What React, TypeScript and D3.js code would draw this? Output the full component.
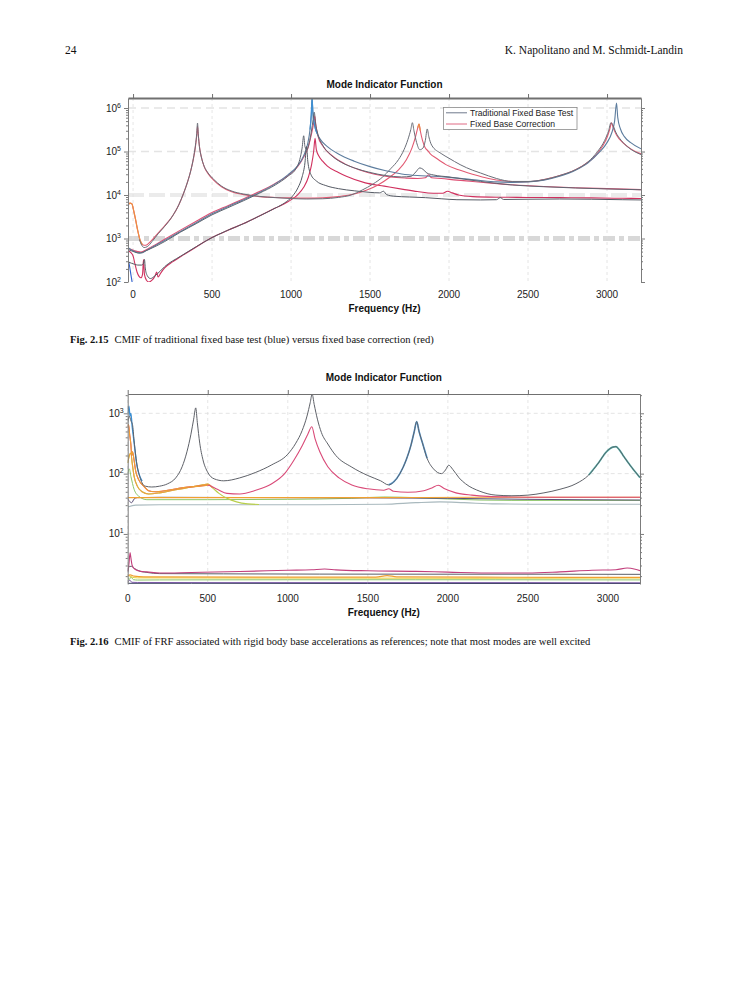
import { useEffect, useRef } from 'react';
import * as d3 from 'd3';

type Pt = [number, number];

// ---------- Fig. 2.15 (frequency in Hz, CMIF value) ----------
const fig15TradA: Pt[] = [
  [-32, 5200], [-20, 5800], [-10, 6200], [0, 4600], [12, 3000], [25, 1800], [40, 950], [55, 700], [70, 620],
  [90, 650], [120, 850], [160, 1300], [200, 1900], [250, 3300], [290, 6000], [320, 11000], [345, 20000],
  [365, 36000], [382, 70000], [395, 140000], [403, 260000], [408, 450000], [413, 240000], [420, 130000],
  [432, 75000], [450, 46000], [475, 32000], [510, 23000], [560, 16000], [620, 12500], [700, 10500],
  [800, 9300], [900, 8700], [1000, 8300], [1100, 8100], [1200, 8200], [1300, 8800], [1380, 10000],
  [1450, 13000], [1520, 18000], [1580, 26000], [1630, 40000], [1680, 65000], [1715, 110000], [1740, 190000],
  [1758, 320000], [1768, 460000], [1778, 300000], [1795, 160000], [1815, 110000], [1835, 120000],
  [1850, 180000], [1862, 330000], [1872, 220000], [1890, 140000], [1950, 90000], [2000, 70000],
  [2070, 50000], [2150, 37000], [2200, 32000], [2300, 24000], [2400, 20500], [2500, 20500], [2600, 22500],
  [2700, 28000], [2800, 38000], [2880, 58000], [2940, 100000], [2985, 180000], [3010, 300000],
  [3025, 460000], [3035, 420000], [3055, 280000], [3090, 180000], [3140, 120000], [3215, 85000],
];
const fig15TradB: Pt[] = [
  [-32, 560], [-10, 520], [10, 490], [30, 470], [50, 470], [70, 500], [100, 560], [150, 680], [200, 850],
  [300, 1400], [400, 2200], [500, 3500], [600, 5100], [700, 7400], [800, 11000], [900, 17000], [980, 27000],
  [1030, 40000], [1055, 65000], [1070, 120000], [1080, 230000], [1088, 130000], [1100, 110000],
  [1115, 160000], [1128, 280000], [1140, 550000], [1147, 800000], [1155, 450000], [1170, 250000],
  [1200, 140000], [1250, 85000], [1320, 56000], [1400, 42000], [1500, 33000], [1600, 28000], [1700, 26000],
  [1760, 27000], [1790, 34000], [1815, 42000], [1835, 39000], [1860, 32000], [1900, 29000], [2000, 26000],
  [2100, 23000], [2200, 20500], [2300, 18500], [2400, 17000], [2600, 15500], [2800, 14500], [3000, 13800],
  [3215, 13200],
];
const fig15TradC: Pt[] = [
  [-32, 620], [-15, 560], [0, 520], [20, 480], [40, 460], [60, 470], [80, 520], [110, 600], [150, 720],
  [200, 900], [300, 1450], [400, 2300], [500, 3700], [600, 5400], [700, 7800], [800, 11500], [900, 18000],
  [980, 29000], [1040, 46000], [1080, 80000], [1105, 150000], [1120, 320000], [1128, 700000],
  [1133, 1700000], [1138, 800000], [1148, 420000], [1165, 260000], [1190, 180000], [1230, 130000],
  [1300, 88000], [1400, 60000], [1500, 45000], [1600, 36000], [1700, 30500], [1800, 28000], [1900, 27000],
  [2000, 25500], [2100, 23500], [2200, 21500], [2300, 20000], [2400, 19500], [2500, 20000], [2600, 22000],
  [2700, 27000], [2800, 37000], [2880, 55000], [2950, 95000], [3000, 160000], [3030, 270000],
  [3048, 500000], [3060, 1300000], [3068, 600000], [3085, 330000], [3110, 220000], [3150, 160000],
  [3215, 115000],
];
const fig15TradD: Pt[] = [
  [-32, 290], [-10, 270], [10, 255], [30, 245], [55, 245], [65, 260], [72, 330], [78, 200], [90, 140],
  [110, 120], [140, 140], [170, 175], [200, 225], [300, 390], [400, 650], [500, 1050], [600, 1550],
  [700, 2200], [800, 3300], [900, 5000], [960, 6600], [1010, 9500], [1045, 15000], [1070, 26000],
  [1088, 55000], [1098, 130000], [1106, 60000], [1125, 30000], [1160, 21000], [1220, 16500], [1300, 14000],
  [1400, 12500], [1500, 11500], [1560, 11200], [1585, 12200], [1605, 10200], [1650, 9400], [1750, 9000],
  [1850, 8700], [1950, 8200], [2050, 7800], [2200, 7700], [2300, 7800], [2325, 8700], [2345, 7900],
  [2500, 8000], [2700, 8100], [2900, 8000], [3100, 7800], [3215, 7700],
];
const fig15TradEdge: Pt[] = [[-32, 330], [-22, 230], [-14, 150], [-6, 100]];

const fig15CorrA: Pt[] = [
  [-32, 5800], [-20, 6500], [-8, 6300], [5, 4200], [18, 2500], [30, 1500], [45, 900], [60, 720], [80, 700],
  [110, 850], [160, 1350], [200, 1950], [250, 3300], [290, 6000], [320, 11000], [345, 20000], [365, 36000],
  [382, 68000], [395, 130000], [403, 230000], [408, 380000], [414, 220000], [421, 125000], [433, 73000],
  [450, 45000], [475, 31000], [510, 22000], [560, 15500], [620, 12000], [700, 10200], [800, 9200],
  [900, 8800], [1000, 8600], [1100, 8500], [1200, 8600], [1300, 9200], [1400, 10500], [1480, 13000],
  [1550, 17000], [1620, 25000], [1680, 38000], [1730, 65000], [1765, 120000], [1788, 220000],
  [1802, 350000], [1810, 430000], [1818, 300000], [1832, 180000], [1850, 120000], [1865, 105000],
  [1880, 90000], [1920, 70000], [1980, 50000], [2060, 38000], [2150, 30000], [2250, 24000], [2350, 21000],
  [2450, 20000], [2550, 21000], [2650, 25000], [2750, 32000], [2850, 48000], [2920, 75000], [2970, 130000],
  [3000, 210000], [3018, 330000], [3028, 460000], [3038, 360000], [3060, 240000], [3100, 160000],
  [3150, 115000], [3215, 88000],
];
const fig15CorrB: Pt[] = [
  [-32, 600], [-10, 560], [10, 520], [30, 500], [50, 490], [70, 520], [100, 600], [150, 750], [200, 960],
  [300, 1560], [400, 2500], [500, 3950], [600, 5700], [700, 8200], [800, 12000], [900, 18500],
  [980, 28000], [1040, 44000], [1080, 75000], [1110, 130000], [1130, 260000], [1143, 450000],
  [1150, 650000], [1157, 400000], [1170, 230000], [1200, 135000], [1260, 80000], [1340, 52000],
  [1430, 38000], [1530, 30000], [1630, 26000], [1730, 24500], [1800, 24000], [1850, 25000], [1870, 29000],
  [1890, 25000], [1950, 24000], [2050, 22000], [2150, 20500], [2250, 19000], [2400, 17200], [2600, 15700],
  [2800, 14700], [3000, 14000], [3215, 13300],
];
const fig15CorrD: Pt[] = [
  [-32, 520], [-15, 480], [0, 400], [12, 260], [25, 170], [38, 135], [50, 125], [60, 150], [66, 330],
  [72, 150], [85, 110], [100, 100], [120, 110], [140, 140], [150, 170], [158, 130], [175, 160], [200, 210],
  [250, 290], [300, 380], [400, 640], [500, 1050], [600, 1550], [700, 2200], [800, 3300], [900, 5000],
  [980, 7000], [1040, 10000], [1080, 15000], [1110, 26000], [1130, 50000], [1143, 100000], [1152, 200000],
  [1160, 110000], [1175, 80000], [1200, 60000], [1230, 46000], [1300, 33000], [1350, 27000],
  [1470, 19000], [1590, 16000], [1710, 13500], [1800, 12000], [1900, 11000], [1960, 11000],
  [1990, 12200], [2020, 11200], [2060, 10000], [2150, 9200], [2300, 8900], [2500, 8800], [2700, 8700],
  [2900, 8600], [3100, 8400], [3215, 8300],
];

const fig15Freq = [0, 500, 1000, 1500, 2000, 2500, 3000];
const fig15Decades = [1e2, 1e3, 1e4, 1e5, 1e6];
const fig15Legend = ['Traditional Fixed Base Test', 'Fixed Base Correction'];

// ---------- Fig. 2.16 ----------
const fig16Main: Pt[] = [
  [0, 700], [10, 900], [20, 750], [30, 650], [40, 350], [50, 200], [60, 130], [75, 90], [90, 70], [110, 62],
  [150, 60], [200, 62], [250, 68], [300, 85], [340, 130], [370, 230], [395, 450], [412, 800], [425, 1230],
  [435, 700], [450, 320], [470, 170], [500, 105], [540, 82], [600, 76], [700, 85], [800, 105], [900, 140],
  [1000, 210], [1050, 320], [1090, 520], [1120, 900], [1140, 1500], [1152, 2080], [1165, 1400],
  [1185, 800], [1210, 480], [1250, 310], [1300, 200], [1400, 128], [1500, 93], [1580, 76], [1630, 65],
  [1660, 72], [1700, 100], [1740, 170], [1770, 300], [1790, 500], [1805, 730], [1820, 500], [1840, 330],
  [1870, 180], [1910, 120], [1960, 100], [1985, 115], [2005, 138], [2030, 118], [2070, 85], [2110, 68],
  [2200, 51], [2300, 44], [2400, 43], [2500, 44], [2600, 48], [2700, 55], [2800, 68], [2880, 95],
  [2940, 150], [2990, 230], [3030, 275], [3050, 280], [3070, 250], [3100, 190], [3150, 125], [3200, 86],
];
const fig16Spike: Pt[] = [
  [0, 1000], [8, 1320], [14, 900], [20, 1000], [28, 600], [35, 420], [45, 250], [55, 150], [70, 100], [90, 75],
];
const fig16Pink: Pt[] = [
  [0, 600], [5, 650], [12, 450], [20, 300], [25, 200], [30, 230], [38, 180], [50, 110], [70, 78], [100, 62],
  [130, 52], [170, 50], [250, 53], [350, 59], [450, 62], [500, 64], [560, 55], [620, 47], [700, 46],
  [800, 53], [900, 68], [980, 100], [1040, 170], [1090, 290], [1125, 450], [1150, 600], [1170, 380],
  [1200, 230], [1250, 130], [1320, 85], [1400, 65], [1500, 56], [1600, 53], [1630, 56], [1660, 51],
  [1750, 49], [1850, 52], [1900, 58], [1940, 64], [1980, 56], [2050, 48], [2150, 44], [2250, 42],
  [2400, 41], [2600, 40.5], [2800, 40.5], [3000, 40.5], [3200, 40.5],
];
const fig16Bump: Pt[] = [
  [0, 150], [10, 200], [20, 220], [28, 150], [40, 90], [60, 62], [90, 50], [130, 46], [200, 48], [300, 54],
  [400, 60], [470, 65], [500, 67], [530, 58], [570, 47], [620, 39], [680, 34], [750, 31.5], [820, 30.8],
];
const fig16OrangeFlat: Pt[] = [[0, 40], [200, 40], [1500, 40], [2200, 40.5], [3200, 40.5]];
const fig16Navy: Pt[] = [
  [0, 38], [10, 35], [25, 33], [40, 38], [60, 40], [200, 40.5], [1000, 40], [2000, 39], [2500, 37.5],
  [3200, 36.5],
];
const fig16Green: Pt[] = [
  [0, 100], [10, 120], [20, 90], [40, 55], [70, 42], [120, 37], [500, 37], [1000, 37.5], [1400, 39],
  [1600, 41], [1800, 40], [2000, 38], [2200, 36.5], [2400, 36], [3200, 36],
];
const fig16Light: Pt[] = [
  [0, 28], [50, 30], [200, 30.5], [1000, 30.5], [1600, 31], [1800, 33], [1950, 34], [2100, 33],
  [2300, 31.5], [2600, 31], [3200, 31],
];
const fig16PinkLow: Pt[] = [
  [0, 2.4], [8, 3.2], [15, 4.9], [20, 4], [28, 3], [45, 2.6], [80, 2.4], [120, 2.35], [200, 2.25],
  [400, 2.3], [700, 2.38], [1000, 2.5], [1150, 2.55], [1230, 2.62], [1300, 2.54], [1500, 2.45],
  [1800, 2.4], [2000, 2.33], [2300, 2.25], [2500, 2.25], [2700, 2.35], [2900, 2.5], [3050, 2.55],
  [3120, 2.72], [3170, 2.6], [3200, 2.46],
];
const fig16GrayLow: Pt[] = [
  [0, 2.3], [10, 2.9], [25, 2.9], [40, 2.7], [70, 2.45], [120, 2.3], [200, 2.2], [600, 2.18],
  [1200, 2.16], [2000, 2.15], [2600, 2.15], [3200, 2.14],
];
const fig16OrangeLow: Pt[] = [
  [0, 2.0], [15, 2.1], [40, 2.0], [100, 1.95], [800, 1.93], [1550, 1.93], [1620, 2.04], [1680, 1.95],
  [2200, 1.92], [3200, 1.9],
];
const fig16YellowLow: Pt[] = [[0, 2.1], [20, 1.95], [60, 1.87], [500, 1.86], [1500, 1.85], [2200, 1.84], [3200, 1.86]];
const fig16GreenLow: Pt[] = [
  [0, 1.9], [10, 1.75], [20, 1.95], [35, 1.75], [60, 1.72], [200, 1.73], [1000, 1.74], [1800, 1.74],
  [2300, 1.74], [3200, 1.73],
];
const fig16PurpleLow: Pt[] = [[0, 1.6], [15, 1.7], [25, 1.58], [60, 1.57], [500, 1.56], [1500, 1.56], [2500, 1.56], [3200, 1.55]];
const fig16NavyLow: Pt[] = [[0, 1.52], [400, 1.52], [1500, 1.51], [2500, 1.51], [3200, 1.51]];

const fig16Freq = [0, 500, 1000, 1500, 2000, 2500, 3000];
const fig16Decades = [1e1, 1e2, 1e3];

interface Series {
  data: Pt[];
  color: string;
  width: number;
  from?: number;
  to?: number;
}

interface Panel {
  id: string;
  x: d3.ScaleLinear<number, number>;
  y: d3.ScaleLogarithmic<number, number>;
  decades: number[];
  freq: number[];
  series: Series[];
  hGrid: (d: number) => { color: string; width: number; dash: string };
  title: string;
  titleY: number;
  tickY: number;
  labelY: number;
  labelGap: number;
  topStroke: number;
}

const SANS = 'Liberation Sans, Arial, Helvetica, sans-serif';
const SERIF = 'Liberation Serif, Times New Roman, serif';

function drawPanel(svg: d3.Selection<SVGSVGElement, unknown, null, undefined>, p: Panel) {
  const [left, right] = p.x.range();
  const [bottom, top] = p.y.range();
  const g = svg.append('g');

  g.append('clipPath').attr('id', p.id)
    .append('rect')
    .attr('x', left).attr('y', top)
    .attr('width', right - left).attr('height', bottom - top);

  // dashed grid
  g.append('g').selectAll('line')
    .data(p.decades)
    .join('line')
    .attr('x1', left).attr('x2', right)
    .attr('y1', d => p.y(d)).attr('y2', d => p.y(d))
    .attr('stroke', d => p.hGrid(d).color)
    .attr('stroke-width', d => p.hGrid(d).width)
    .attr('stroke-dasharray', d => p.hGrid(d).dash);

  g.append('g').selectAll('line')
    .data(p.freq)
    .join('line')
    .attr('x1', d => p.x(d)).attr('x2', d => p.x(d))
    .attr('y1', top).attr('y2', bottom)
    .attr('stroke', '#dedede')
    .attr('stroke-width', 0.8)
    .attr('stroke-dasharray', '3,3');

  const line = d3.line<Pt>()
    .x(d => p.x(d[0]))
    .y(d => p.y(d[1]))
    .curve(d3.curveMonotoneX);

  const lines = g.append('g').attr('clip-path', `url(#${p.id})`);
  p.series.forEach(s => {
    const pts = s.data.filter(d => (s.from === undefined || d[0] >= s.from) && (s.to === undefined || d[0] <= s.to));
    lines.append('path')
      .attr('d', line(pts))
      .attr('fill', 'none')
      .attr('stroke', s.color)
      .attr('stroke-width', s.width)
      .attr('stroke-linejoin', 'round');
  });

  const minor = p.y.ticks().filter(v => !p.decades.some(d => Math.abs(v - d) / d < 1e-6));
  const axisColor = '#7c7c7c';

  g.append('g')
    .attr('transform', `translate(${left},0)`)
    .call(d3.axisLeft(p.y).tickValues(p.decades).tickSize(4).tickSizeOuter(0).tickFormat(() => ''))
    .attr('color', axisColor);
  g.append('g')
    .attr('transform', `translate(${left},0)`)
    .call(d3.axisLeft(p.y).tickValues(minor).tickSize(2).tickSizeOuter(0).tickFormat(() => ''))
    .attr('color', axisColor)
    .call(a => a.select('.domain').remove());
  g.append('g')
    .attr('transform', `translate(${right},0)`)
    .call(d3.axisRight(p.y).tickValues(p.decades).tickSize(4).tickSizeOuter(0).tickFormat(() => ''))
    .attr('color', axisColor);
  g.append('g')
    .attr('transform', `translate(${right},0)`)
    .call(d3.axisRight(p.y).tickValues(minor).tickSize(2).tickSizeOuter(0).tickFormat(() => ''))
    .attr('color', axisColor)
    .call(a => a.select('.domain').remove());

  const topAxis = g.append('g')
    .attr('transform', `translate(0,${top})`)
    .call(d3.axisTop(p.x).tickValues(p.freq).tickSize(4).tickSizeOuter(0).tickFormat(() => ''))
    .attr('color', '#707070');
  topAxis.select('.domain').attr('stroke-width', p.topStroke);

  // tick labels
  g.append('g').selectAll('text')
    .data(p.decades)
    .join('text')
    .attr('x', left - p.labelGap)
    .attr('y', d => p.y(d) + 3.5)
    .attr('text-anchor', 'end')
    .attr('font-family', SANS)
    .attr('font-size', 10)
    .attr('fill', '#222')
    .each(function (d) {
      const t = d3.select(this);
      t.append('tspan').text('10');
      t.append('tspan').attr('dy', -4).attr('font-size', 7).text(String(Math.round(Math.log10(d))));
    });

  g.append('g').selectAll('text')
    .data(p.freq)
    .join('text')
    .attr('x', d => p.x(d))
    .attr('y', p.tickY)
    .attr('text-anchor', 'middle')
    .attr('font-family', SANS)
    .attr('font-size', 10)
    .attr('fill', '#222')
    .text(d => String(d));

  g.append('text')
    .attr('x', (left + right) / 2)
    .attr('y', p.titleY)
    .attr('text-anchor', 'middle')
    .attr('font-family', SANS)
    .attr('font-size', 10)
    .attr('font-weight', 'bold')
    .attr('fill', '#111')
    .text(p.title);

  g.append('text')
    .attr('x', (left + right) / 2)
    .attr('y', p.labelY)
    .attr('text-anchor', 'middle')
    .attr('font-family', SANS)
    .attr('font-size', 10)
    .attr('font-weight', 'bold')
    .attr('fill', '#111')
    .text('Frequency (Hz)');
}

export default function App() {
  const svgRef = useRef<SVGSVGElement>(null);

  useEffect(() => {
    if (!svgRef.current) return;
    const svg = d3.select(svgRef.current);
    svg.selectAll('*').remove();

    // running head
    svg.append('text')
      .attr('x', 65).attr('y', 54)
      .attr('font-family', SERIF).attr('font-size', 11.5).attr('fill', '#111')
      .text('24');
    svg.append('text')
      .attr('x', 683).attr('y', 54)
      .attr('text-anchor', 'end')
      .attr('font-family', SERIF).attr('font-size', 11.5).attr('fill', '#111')
      .text('K. Napolitano and M. Schmidt-Landin');

    // Fig. 2.15
    const x15 = d3.scaleLinear().domain([-32, 3215]).range([128, 641]);
    const y15 = d3.scaleLog().domain([100, 1.7e6]).range([282, 98]);

    drawPanel(svg, {
      id: 'clip15',
      x: x15,
      y: y15,
      decades: fig15Decades,
      freq: fig15Freq,
      series: [
        { data: fig15CorrD, color: '#d0305e', width: 1.1 },
        { data: fig15CorrB, color: '#de4f73', width: 1.1 },
        { data: fig15CorrA, color: '#e25a72', width: 1.1 },
        { data: fig15CorrA, color: '#ee9040', width: 1.2, to: 60 },
        { data: fig15CorrA, color: '#ee9040', width: 1.1, from: 1790, to: 1830 },
        { data: fig15TradC, color: '#5d7d9e', width: 1.1 },
        { data: fig15TradC, color: '#3f8fd2', width: 1.2, from: 1110, to: 1170 },
        { data: fig15TradEdge, color: '#2f5fcf', width: 1.1 },
        { data: fig15TradD, color: '#555a64', width: 1.0 },
        { data: fig15TradB, color: '#5f6570', width: 1.0 },
        { data: fig15TradA, color: '#6a6e78', width: 1.0, from: 40 },
      ],
      hGrid: d => {
        if (d === 1e3) return { color: '#d8d8d8', width: 5, dash: '12,4,5,4' };
        if (d === 1e4) return { color: '#ebebeb', width: 4, dash: '16,5' };
        if (d === 1e2) return { color: '#ffffff', width: 0, dash: '' };
        return { color: '#e4e4e4', width: 1.6, dash: '8,5' };
      },
      title: 'Mode Indicator Function',
      titleY: 88,
      tickY: 298,
      labelY: 312,
      labelGap: 7,
      topStroke: 1.8,
    });

    // legend
    const legend = svg.append('g');
    legend.append('rect')
      .attr('x', 443.5).attr('y', 107.5).attr('width', 133.5).attr('height', 22)
      .attr('fill', '#fff').attr('stroke', '#8a8a8a').attr('stroke-width', 0.8);
    legend.selectAll('line')
      .data(fig15Legend)
      .join('line')
      .attr('x1', 446).attr('x2', 467)
      .attr('y1', (_, i) => 112.8 + i * 11.2).attr('y2', (_, i) => 112.8 + i * 11.2)
      .attr('stroke', (_, i) => (i === 0 ? '#6f7a8c' : '#e06a84'))
      .attr('stroke-width', 1);
    legend.selectAll('text')
      .data(fig15Legend)
      .join('text')
      .attr('x', 470)
      .attr('y', (_, i) => 115.8 + i * 11.2)
      .attr('font-family', SANS)
      .attr('font-size', 8.6)
      .attr('fill', '#222')
      .text(d => d);

    const cap15 = svg.append('text')
      .attr('x', 70).attr('y', 342.5)
      .attr('font-family', SERIF).attr('font-size', 10.6).attr('fill', '#111');
    cap15.append('tspan').attr('font-weight', 'bold').text('Fig. 2.15');
    cap15.append('tspan').attr('dx', 6).text('CMIF of traditional fixed base test (blue) versus fixed base correction (red)');

    // Fig. 2.16
    const x16 = d3.scaleLinear().domain([0, 3200]).range([127.7, 640]);
    const y16 = d3.scaleLog().domain([1.48, 2090]).range([584, 394]);

    drawPanel(svg, {
      id: 'clip16',
      x: x16,
      y: y16,
      decades: fig16Decades,
      freq: fig16Freq,
      series: [
        { data: fig16Light, color: '#a9b9be', width: 1.1 },
        { data: fig16Green, color: '#8cc56a', width: 1.0 },
        { data: fig16Navy, color: '#5b5078', width: 1.0 },
        { data: fig16OrangeFlat, color: '#f0a030', width: 1.1 },
        { data: fig16Bump, color: '#b9cf4a', width: 1.1 },
        { data: fig16Bump, color: '#eba040', width: 1.1, to: 540 },
        { data: fig16Pink, color: '#d94a78', width: 1.1 },
        { data: fig16Pink, color: '#f0a030', width: 1.1, to: 520 },
        { data: fig16Spike, color: '#3a8fd4', width: 1.3 },
        { data: fig16Main, color: '#5aa2dc', width: 1.7, from: 1600, to: 1900 },
        { data: fig16Main, color: '#4fb3ac', width: 1.7, from: 2880, to: 3200 },
        { data: fig16Main, color: '#5e6168', width: 1.0 },
        { data: fig16NavyLow, color: '#3a4160', width: 1.0 },
        { data: fig16PurpleLow, color: '#7b5aa6', width: 1.0 },
        { data: fig16GreenLow, color: '#8cc56a', width: 1.0 },
        { data: fig16YellowLow, color: '#e6cf3a', width: 1.0 },
        { data: fig16OrangeLow, color: '#f0a030', width: 1.2 },
        { data: fig16GrayLow, color: '#5a5f68', width: 1.0 },
        { data: fig16PinkLow, color: '#c23f7c', width: 1.1 },
      ],
      hGrid: () => ({ color: '#e4e4e4', width: 1, dash: '4,3' }),
      title: 'Mode Indicator Function',
      titleY: 380.5,
      tickY: 601.5,
      labelY: 615.5,
      labelGap: 4,
      topStroke: 1.2,
    });

    const cap16 = svg.append('text')
      .attr('x', 70).attr('y', 644.5)
      .attr('font-family', SERIF).attr('font-size', 10.6).attr('fill', '#111');
    cap16.append('tspan').attr('font-weight', 'bold').text('Fig. 2.16');
    cap16.append('tspan').attr('dx', 6).text('CMIF of FRF associated with rigid body base accelerations as references; note that most modes are well excited');
  }, []);

  return (
    <svg
      ref={svgRef}
      width={752}
      height={1000}
      style={{ position: 'absolute', left: 0, top: 0, background: '#fff' }}
    />
  );
}
